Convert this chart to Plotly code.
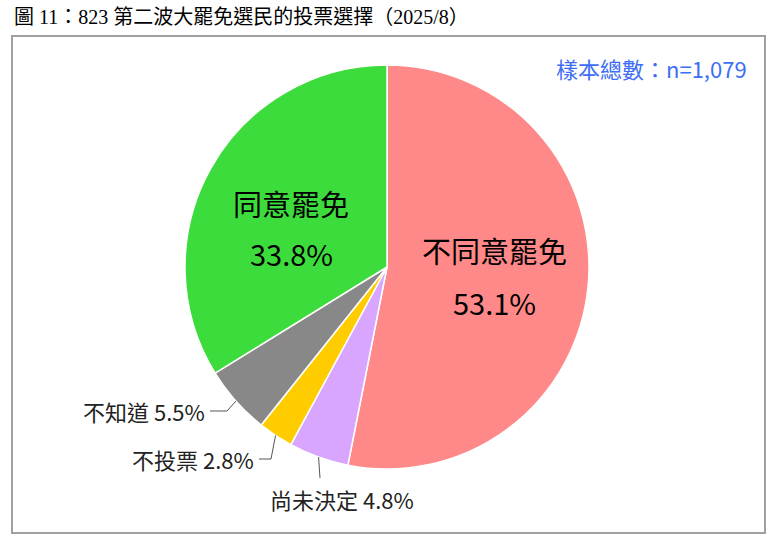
import math
import plotly.graph_objects as go

# 資料
labels = ['不同意罷免', '尚未決定', '不投票', '不知道', '同意罷免']
values = [53.1, 4.8, 2.8, 5.5, 33.8]
colors = ['#FF8888', '#D9A6FF', '#FFCC00', '#888888', '#3DDC3D']
title_text = '圖 11：823 第二波大罷免選民的投票選擇（2025/8）'
sample_text = '樣本總數：n=1,079'

W, H = 773, 548
CX, CY, R = 387, 267, 202
CJK = 'Noto Sans CJK TC, Noto Sans CJK SC, sans-serif'


def px(x):
    return x / W


def py(y):
    return 1 - y / H


def rim_point(i):
    """Pixel point on the pie edge at the middle of slice i (clockwise from 12 o'clock)."""
    total = sum(values)
    start = sum(values[:i])
    theta = 2 * math.pi * (start + values[i] / 2) / total
    return CX + R * math.sin(theta), CY - R * math.cos(theta)


fig = go.Figure(go.Pie(
    labels=labels,
    values=values,
    sort=False,
    direction='clockwise',
    rotation=0,
    marker=dict(colors=colors, line=dict(color='white', width=1.5)),
    textinfo='none',
    hoverinfo='label+percent',
    showlegend=False,
    domain=dict(x=[px(CX - R), px(CX + R)], y=[py(CY + R), py(CY - R)]),
))

# 圖框
fig.add_shape(type='rect', xref='paper', yref='paper',
              x0=px(12), x1=px(765), y0=py(533), y1=py(36),
              line=dict(color='#A0A0A0', width=2), fillcolor='rgba(0,0,0,0)')

# 大片標籤
inside = {0: (494, 250, 302), 4: (291, 203, 253)}
for i, (x, y1, y2) in inside.items():
    for y, t in ((y1, labels[i]), (y2, f'{values[i]:.1f}%')):
        fig.add_annotation(x=px(x), y=py(y), xref='paper', yref='paper', text=t,
                           showarrow=False, xanchor='center', yanchor='middle',
                           font=dict(family=CJK, size=29, color='black'))

# 小片標籤與引線
lead = {
    3: dict(pts=[(227, 411), (210, 411)], tx=207, ty=411, anchor='right'),
    2: dict(pts=[(271, 459), (259, 459)], tx=256, ty=459, anchor='right'),
    1: dict(pts=[(320, 478)], tx=342, ty=499, anchor='center'),
}
for i, d in lead.items():
    x0, y0 = rim_point(i)
    path = f'M {px(x0)},{py(y0)}' + ''.join(f' L {px(x)},{py(y)}' for x, y in d['pts'])
    fig.add_shape(type='path', xref='paper', yref='paper', path=path,
                  line=dict(color='#555555', width=1))
    fig.add_annotation(x=px(d['tx']), y=py(d['ty']), xref='paper', yref='paper',
                       text=f'{labels[i]} {values[i]:.1f}%', showarrow=False,
                       xanchor=d['anchor'], yanchor='middle',
                       font=dict(family=CJK, size=22, color='#222222'))

# 標題與樣本數
fig.add_annotation(x=px(12), y=py(17), xref='paper', yref='paper', text=title_text,
                   showarrow=False, xanchor='left', yanchor='middle',
                   font=dict(family='Liberation Serif, Noto Sans CJK TC, serif', size=20, color='black'))
fig.add_annotation(x=px(749), y=py(68), xref='paper', yref='paper', text=sample_text,
                   showarrow=False, xanchor='right', yanchor='middle',
                   font=dict(family=CJK, size=22, color='#3D6EF5'))

fig.update_layout(
    width=W, height=H,
    margin=dict(l=0, r=0, t=0, b=0),
    paper_bgcolor='white',
    plot_bgcolor='white',
)

# drop the browser's default 8px body margin so the figure fills the window
fig.write_html('out.html', config={'displayModeBar': False},
               post_script="document.body.style.margin='0';")
